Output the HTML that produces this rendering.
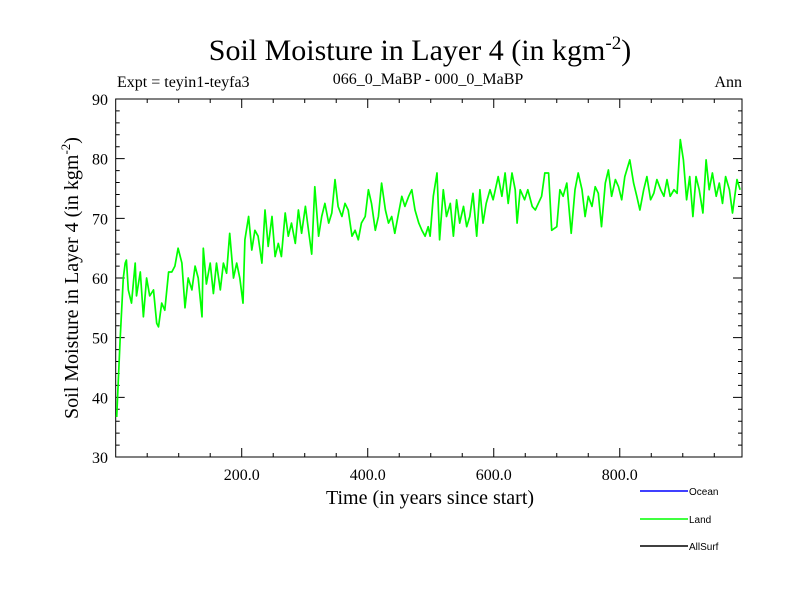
<!DOCTYPE html>
<html><head><meta charset="utf-8"><style>
body{margin:0;background:#fff;}
svg text{font-family:"Liberation Serif",serif;}
</style></head><body>
<svg width="800" height="600" xmlns="http://www.w3.org/2000/svg">
<rect width="800" height="600" fill="#fff"/>
<text x="420" y="60" font-size="30" text-anchor="middle">Soil Moisture in Layer 4 (in kgm<tspan dy="-11" font-size="19">-2</tspan><tspan dy="11">)</tspan></text>
<text x="117" y="87" font-size="16">Expt = teyin1-teyfa3</text>
<text x="428" y="84" font-size="16" text-anchor="middle">066_0_MaBP - 000_0_MaBP</text>
<text x="742" y="87" font-size="16" text-anchor="end">Ann</text>
<g id="axes"></g>
<g id="series"></g>
<text x="430" y="504" font-size="20" text-anchor="middle">Time (in years since start)</text>
<text transform="translate(78,278) rotate(-90)" font-size="20" text-anchor="middle">Soil Moisture in Layer 4 (in kgm<tspan dy="-8" font-size="13">-2</tspan><tspan dy="8">)</tspan></text>
<g font-size="10">
<line x1="640" y1="491" x2="688" y2="491" stroke="#0000ff" stroke-width="1.5"/>
<text x="689" y="495" style="font-family:'Liberation Sans',sans-serif">Ocean</text>
<line x1="640" y1="519" x2="688" y2="519" stroke="#00ff00" stroke-width="1.5"/>
<text x="689" y="523" style="font-family:'Liberation Sans',sans-serif">Land</text>
<line x1="640" y1="546" x2="688" y2="546" stroke="#000" stroke-width="1.5"/>
<text x="689" y="550" style="font-family:'Liberation Sans',sans-serif">AllSurf</text>
</g>
</svg>
<script>
const years=[1.6,7,12,15,17,20,25,31,33,39,44,49,54,60,65,68,73,78,84,89,94,99,105,110,115,121,126,131,137,139,144,150,155,160,166,171,176,181,187,192,197,202,205,211,216,221,226,232,237,242,248,253,258,263,269,274,279,285,290,295,301,306,311,316,322,327,332,338,343,348,353,359,364,369,375,380,385,390,396,401,406,412,417,422,428,433,438,443,449,454,459,465,470,475,481,486,491,496,499,504,510,514,520,525,531,536,541,546,552,557,562,567,573,578,583,588,594,599,607,613,618,623,629,634,637,642,649,654,661,666,676,681,687,692,700,705,710,716,723,729,734,740,745,750,756,761,766,771,777,782,787,793,798,803,808,816,822,827,832,838,843,849,854,859,865,870,875,880,886,891,896,901,906,911,916,921,926,932,937,942,947,953,958,963,968,974,979,986,991];
const landValues=[36.7,49.6,60,62.5,63,58,55.8,62.5,57,61,53.5,60,57,58,52.4,51.8,55.8,54.6,61,61,62,65,62.5,55,60,58,62,60,53.5,65,59,62.5,57.4,62.5,58,62.5,60.8,67.5,60,62.5,60,55.8,66.4,70.3,64.7,68,67,62.5,71.4,65.3,70.3,63.6,65.8,63.6,70.9,67,69.2,65.8,71.4,67.5,72,68,64,75.3,67,70.3,72.5,69.2,70.9,76.5,72,70.3,72.5,71.4,67,68,66.4,69.2,70.3,74.8,72.5,68,70.3,75.9,71.4,69.2,70.3,67.5,70.9,73.7,72,73.7,74.8,71.4,69.2,68,67,68.6,67,73.7,77.6,66.4,74.8,70.3,72.5,67,73.1,69.2,72,68.6,70.3,74.2,67,74.8,69.2,72.5,74.8,73.1,77,73.7,77.6,72.5,77.6,74.8,69.2,74.8,73.1,74.8,72,71.4,73.7,77.6,77.6,68,68.6,74.8,73.7,75.9,67.5,74.8,77.6,74.8,70.3,73.7,72,75.3,74.2,68.6,75.9,78.1,73.7,76.5,75.3,73.1,77,79.8,75.9,73.7,71.4,74.8,77,73.1,74.2,76.5,74.8,73.7,76.5,73.7,74.8,74.2,83.2,79.8,73.1,77,70.3,77,74.8,70.9,79.8,74.8,77.6,73.7,75.9,72.5,77,74.8,70.9,76.5,74.8];
const yTicks=[30,40,50,60,70,80,90];
const xTicks=[200,400,600,800];
const X0=115.7,X1=742,Y0=457,Y1=99,XMIN=0,XMAX=994,YMIN=30,YMAX=90;
const sx=v=>X0+(v-XMIN)/(XMAX-XMIN)*(X1-X0);
const sy=v=>Y0-(v-YMIN)/(YMAX-YMIN)*(Y0-Y1);
const NS="http://www.w3.org/2000/svg";
function mk(tag,attrs,parent){const e=document.createElementNS(NS,tag);for(const k in attrs)e.setAttribute(k,attrs[k]);parent.appendChild(e);return e;}
const ax=document.getElementById('axes');
const frame=mk('rect',{x:X0,y:Y1,width:X1-X0,height:Y0-Y1,fill:'none',stroke:'#000','stroke-width':1},ax);


let tp='';
for(let v=50;v<XMAX;v+=50){const x=sx(v),L=(v%200===0)?9:4;tp+=`M${x},${Y0}v${-L}M${x},${Y1}v${L}`;}
for(let v=32;v<YMAX;v+=2){const y=sy(v),L=(v%10===0)?9:4;tp+=`M${X0},${y}h${L}M${X1},${y}h${-L}`;}
const ticks=mk('path',{d:tp,stroke:'#000','stroke-width':1,fill:'none'},ax);


yTicks.forEach(v=>{const t=mk('text',{x:108,y:sy(v)+6,'font-size':16,'text-anchor':'end'},ax);t.textContent=v;

});
xTicks.forEach(v=>{const t=mk('text',{x:sx(v),y:480,'font-size':16,'text-anchor':'middle'},ax);t.textContent=v.toFixed(1);

});
const d=years.map((y,i)=>(i?'L':'M')+sx(y).toFixed(1)+','+sy(landValues[i]).toFixed(1)).join('');
const line=mk('path',{d:d,stroke:'#00ff00','stroke-width':1.7,fill:'none','stroke-linejoin':'round'},document.getElementById('series'));


</script>
</body></html>
